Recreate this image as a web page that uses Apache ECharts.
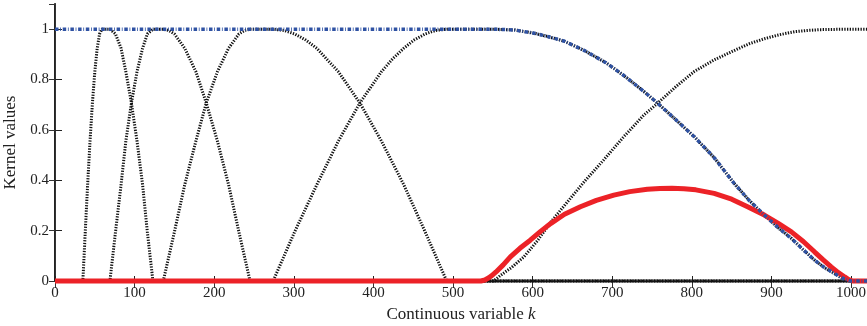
<!DOCTYPE html>
<html>
<head>
<meta charset="utf-8">
<script src="https://cdn.jsdelivr.net/npm/echarts@6/dist/echarts.min.js"></script>
<style>
  html, body { margin: 0; padding: 0; background: #fff; }
  #chart { width: 867px; height: 326px; }
</style>
</head>
<body>
<div id="chart"></div>
<script>
// kernel curves, [k, value]
const kernel1 = [[0,0],[35,0],[38,0.195],[41,0.383],[44,0.556],[47,0.707],[50,0.831],[53,0.924],[56,0.981],[59,1],[69,1],[76,0.981],[83,0.924],[89,0.831],[96,0.707],[103,0.556],[110,0.383],[116,0.195],[123,0],[1020,0]]
const kernel2 = [[0,0],[69,0],[76,0.195],[83,0.383],[89,0.556],[96,0.707],[103,0.831],[110,0.924],[116,0.981],[123,1],[136,1],[143,0.995],[150,0.981],[163,0.924],[177,0.831],[190,0.707],[204,0.556],[218,0.383],[231,0.195],[245,0],[1020,0]]
const kernel3 = [[0,0],[136,0],[150,0.195],[163,0.383],[177,0.556],[190,0.707],[204,0.831],[218,0.924],[231,0.981],[238,0.995],[245,1],[274,1],[288,0.995],[301,0.981],[315,0.957],[329,0.924],[356,0.831],[383,0.707],[410,0.556],[438,0.383],[465,0.195],[492,0],[1020,0]]
const kernel4 = [[0,0],[274,0],[301,0.195],[329,0.383],[356,0.556],[383,0.707],[410,0.831],[424,0.882],[438,0.924],[451,0.957],[465,0.981],[478,0.995],[492,1],[550,1],[577,0.997],[602,0.984],[620,0.97],[640,0.952],[665,0.915],[692,0.867],[715,0.815],[740,0.752],[757,0.706],[780,0.64],[803,0.573],[828,0.49],[853,0.388],[872,0.32],[891,0.262],[908,0.213],[925,0.169],[940,0.124],[954,0.083],[967,0.052],[979,0.03],[988,0.013],[994,0.005],[1000,0],[1020,0]]
const kernel5 = [[0,0],[551,0],[560,0.023],[574,0.055],[589,0.096],[606,0.16],[623,0.235],[640,0.3],[665,0.395],[689,0.48],[715,0.575],[740,0.66],[757,0.706],[780,0.772],[803,0.832],[828,0.878],[853,0.915],[872,0.942],[891,0.962],[910,0.978],[929,0.99],[945,0.995],[960,0.998],[993,1],[1020,1]]
const lowPass = [[0,1],[550,1],[577,0.997],[602,0.984],[620,0.97],[640,0.952],[665,0.915],[692,0.867],[715,0.815],[740,0.752],[757,0.706],[780,0.64],[803,0.573],[828,0.49],[853,0.388],[872,0.32],[891,0.262],[908,0.213],[925,0.169],[940,0.124],[954,0.083],[967,0.052],[979,0.03],[988,0.013],[994,0.005],[1000,0],[1020,0]]
const redKernel = [[0,0],[535,0],[540,0.004],[545,0.013],[550,0.025],[554,0.036],[563,0.064],[572,0.096],[584,0.13],[597,0.162],[610,0.197],[623,0.229],[640,0.265],[660,0.295],[680,0.32],[702,0.341],[722,0.355],[744,0.364],[760,0.367],[775,0.368],[790,0.366],[805,0.362],[828,0.348],[850,0.325],[870,0.295],[891,0.262],[908,0.23],[925,0.195],[940,0.157],[954,0.116],[965,0.084],[975,0.056],[984,0.033],[992,0.016],[997,0.006],[1002,0],[1020,0]]

const xMax = 1020
const yMax = 1.1

const font = 'Liberation Serif'
const chart = echarts.init(document.getElementById('chart'))

const dotted = (data) => ({
  type: 'line',
  data: data,
  symbol: 'none',
  clip: false,
  z: 2,
  lineStyle: { color: '#111', width: 3, type: [1.3, 1.4] }
})

chart.setOption({
  animation: false,
  grid: { left: 55, right: 0, top: 4, bottom: 45, containLabel: false, outerBoundsMode: 'none' },
  xAxis: [
    {
      type: 'value',
      min: 0,
      max: xMax,
      interval: 100,
      name: 'Continuous variable {i|k}',
      nameLocation: 'middle',
      nameGap: 22,
      nameTextStyle: {
        fontFamily: font, fontSize: 17, color: '#222',
        rich: { i: { fontFamily: font, fontSize: 17, fontStyle: 'italic', color: '#222' } }
      },
      axisLine: { lineStyle: { color: '#222', width: 1 } },
      axisTick: { inside: true, length: 5, lineStyle: { color: '#222' } },
      axisLabel: {
        fontFamily: font, fontSize: 15, color: '#222', margin: 5,
        showMaxLabel: false,
        formatter: v => (v % 100 === 0 ? String(v) : '')
      },
      splitLine: { show: false }
    },
    {
      type: 'value',
      position: 'top',
      min: 0,
      max: xMax,
      interval: 100,
      axisLine: { show: true, lineStyle: { color: '#333', width: 1 } },
      axisTick: { inside: true, length: 7, lineStyle: { color: '#333' } },
      axisLabel: { show: false },
      splitLine: { show: false }
    }
  ],
  yAxis: [
    {
      type: 'value',
      min: 0,
      max: yMax,
      interval: 0.2,
      name: 'Kernel values',
      nameLocation: 'middle',
      nameGap: 33,
      nameTextStyle: { fontFamily: font, fontSize: 17, color: '#222' },
      axisLine: { show: true, lineStyle: { color: '#222', width: 2 } },
      axisTick: { inside: true, length: 7, lineStyle: { color: '#222' } },
      axisLabel: {
        fontFamily: font, fontSize: 15, color: '#222', margin: 6,
        showMaxLabel: false
      },
      splitLine: { show: false }
    },
    {
      type: 'value',
      position: 'right',
      min: 0,
      max: yMax,
      interval: 0.2,
      axisLine: { show: true, lineStyle: { color: '#333', width: 1 } },
      axisTick: { inside: true, length: 6, lineStyle: { color: '#333' } },
      axisLabel: { show: false },
      splitLine: { show: false }
    }
  ],
  series: [
    dotted(kernel1),
    dotted(kernel2),
    dotted(kernel3),
    dotted(kernel4),
    dotted(kernel5),
    {
      type: 'line',
      data: redKernel,
      symbol: 'none',
      clip: false,
      z: 3,
      lineStyle: { color: '#ec2227', width: 5 }
    },
    {
      type: 'line',
      data: lowPass,
      symbol: 'none',
      clip: false,
      z: 4,
      lineStyle: { color: '#2f52a3', width: 3.5, type: [3.5, 1.7, 0.8, 1.7] }
    }
  ]
})
</script>
</body>
</html>
